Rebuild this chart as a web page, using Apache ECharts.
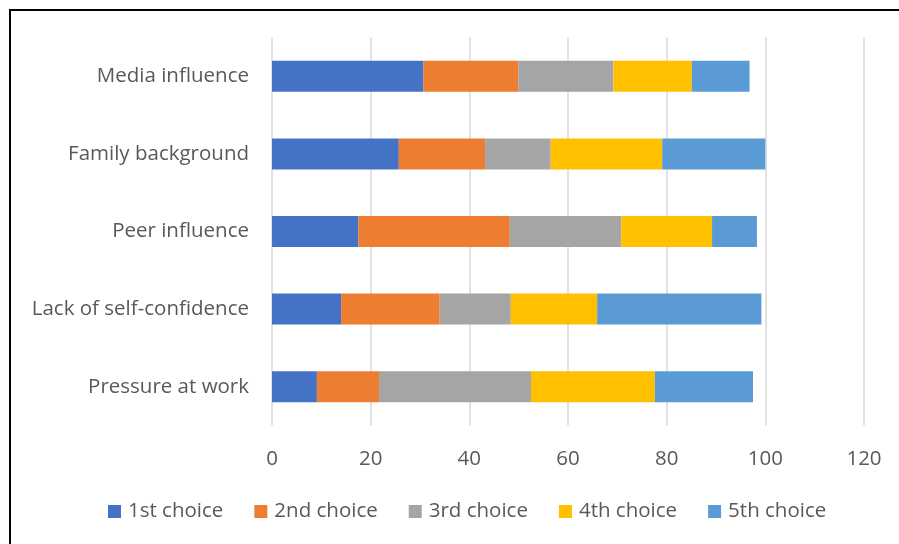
<!DOCTYPE html>
<html>
<head>
<meta charset="utf-8">
<script src="https://cdn.jsdelivr.net/npm/echarts@6/dist/echarts.min.js"></script>
<style>html,body{margin:0;padding:0;background:#fff}#c{width:899px;height:544px}</style>
</head>
<body>
<div id="c"></div>
<script>
const categories = ["Pressure at work", "Lack of self-confidence", "Peer influence", "Family background", "Media influence"];
const seriesNames = ["1st choice", "2nd choice", "3rd choice", "4th choice", "5th choice"];
const first  = [9.1, 14.0, 17.5, 25.7, 30.7];
const second = [12.6, 20.0, 30.7, 17.5, 19.2];
const third  = [30.8, 14.4, 22.6, 13.3, 19.3];
const fourth = [25.1, 17.5, 18.4, 22.6, 15.9];
const fifth  = [19.9, 33.3, 9.1, 20.9, 11.7];
const xTicks = [0, 20, 40, 60, 80, 100, 120];
const colors = ["#4472C4", "#ED7D31", "#A5A5A5", "#FFC000", "#5B9BD5"];

const values = [first, second, third, fourth, fifth];
const font = "'Open Sans', sans-serif";
const chart = echarts.init(document.getElementById('c'));
chart.setOption({
  animation: false,
  graphic: [{
    type: 'rect', shape: {x: 10, y: 10, width: 1000, height: 1000},
    style: {fill: 'none', stroke: '#000', lineWidth: 2}, silent: true
  }],
  grid: {left: 272, right: 35, top: 37.5, height: 388},
  legend: {
    bottom: 17, left: 103,
    itemWidth: 13, itemHeight: 13, itemGap: 31,
    icon: 'rect',
    textStyle: {color: '#595959', fontSize: 20.5, fontFamily: font, padding: [0,0,0,2]},
    data: seriesNames
  },
  xAxis: {
    type: 'value', min: xTicks[0], max: xTicks[xTicks.length-1], interval: 20,
    axisLine: {show: false}, axisTick: {show: false},
    splitLine: {lineStyle: {color: '#d9d9d9', width: 1.5}},
    axisLabel: {color: '#595959', fontSize: 20.5, fontFamily: font, margin: 23}
  },
  yAxis: {
    type: 'category', data: categories,
    axisLine: {show: false}, axisTick: {show: false},
    axisLabel: {color: '#595959', fontSize: 20.5, fontFamily: font, margin: 23}
  },
  series: seriesNames.map((n, i) => ({
    name: n, type: 'bar', stack: 'total', data: values[i],
    barCategoryGap: '60%',
    itemStyle: {color: colors[i]}
  }))
});
</script>
</body>
</html>
